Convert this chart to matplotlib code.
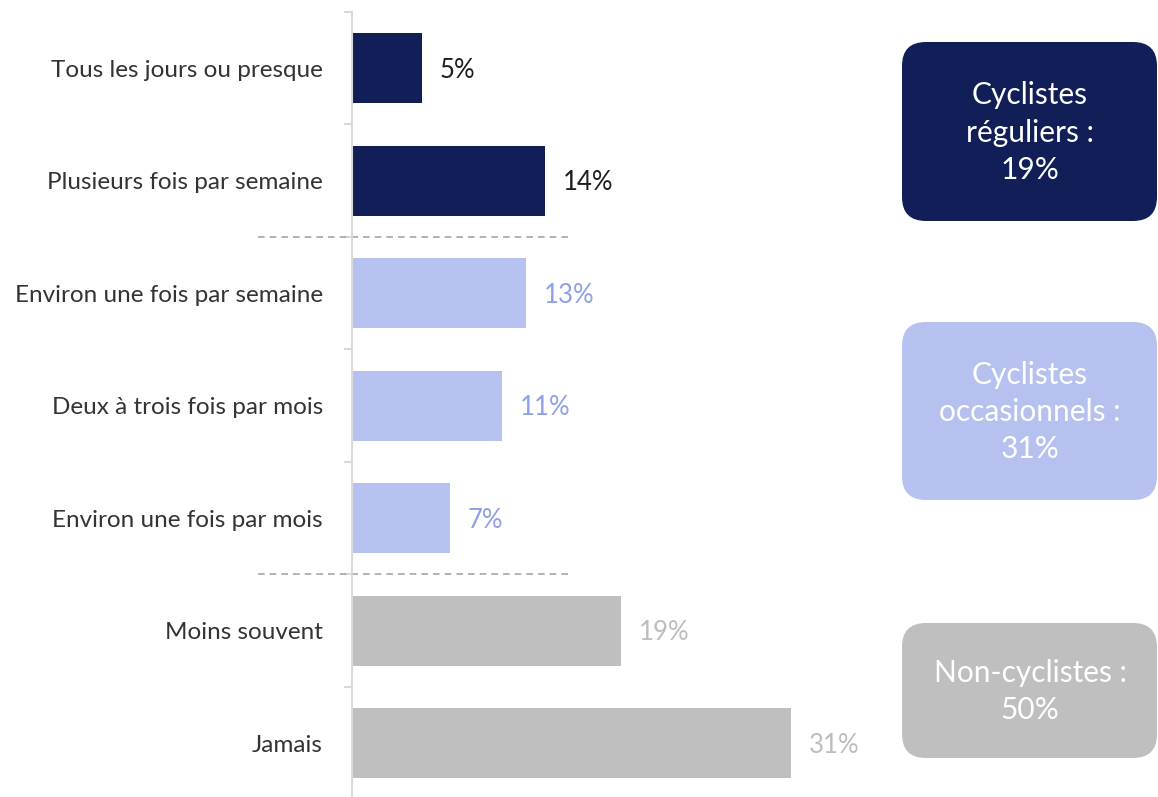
import matplotlib
matplotlib.use("Agg")
import matplotlib.pyplot as plt
from matplotlib.patches import FancyBboxPatch

plt.rcParams['font.family'] = ['Lato', 'DejaVu Sans']

# data
categories = ["Tous les jours ou presque", "Plusieurs fois par semaine",
              "Environ une fois par semaine", "Deux à trois fois par mois",
              "Environ une fois par mois", "Moins souvent", "Jamais"]
values = [4.95, 13.6, 12.3, 10.6, 6.9, 19.0, 31.0]
value_labels = ["5%", "14%", "13%", "11%", "7%", "19%", "31%"]
groups = [0, 0, 1, 1, 1, 2, 2]
group_labels = ["Cyclistes\nréguliers :\n19%",
                "Cyclistes\noccasionnels :\n31%",
                "Non-cyclistes :\n50%"]

bar_colors = ["#111e57", "#b7c1f0", "#bfbfbf"]
value_colors = ["#1e1e1e", "#8e9fe8", "#bdbdbd"]

fig = plt.figure(figsize=(11.58, 7.97), dpi=100)

# main bar axes
ax = fig.add_axes([352 / 1158, 0, (880 - 352) / 1158, 785 / 797])
y = list(range(len(categories)))
ax.barh(y, values, height=0.62, color=[bar_colors[g] for g in groups])
ax.set_ylim(6.478, -0.5)
ax.set_xlim(0, 528 / 14.16)

for i, v in enumerate(values):
    ax.text(v + 1.27, i + 0.02, value_labels[i], va="center", ha="left",
            fontsize=18.5, color=value_colors[groups[i]])

ax.set_yticks(y)
ax.set_yticklabels(categories, fontsize=17.5, color="#333333")
ax.tick_params(axis="y", which="major", length=0, pad=21)
ax.set_yticks([i - 0.5 for i in range(len(categories))], minor=True)
ax.tick_params(axis="y", which="minor", length=5.5, width=1.5, color="#d9d9d9")
ax.set_xticks([])
for s in ["top", "right", "bottom"]:
    ax.spines[s].set_visible(False)
ax.spines["left"].set_color("#d9d9d9")
ax.spines["left"].set_linewidth(1.5)

# dashed separators between groups
for yy in [1.5, 4.5]:
    ax.plot([-6.64, 15.54], [yy, yy], ls=(0, (4, 3)), color="#a6a6a6",
            lw=1.2, clip_on=False)

# group boxes in a pixel-coordinate overlay
ov = fig.add_axes([0, 0, 1, 1])
ov.set_xlim(0, 1158)
ov.set_ylim(797, 0)
ov.axis("off")
boxes = [(42, 221), (322, 500), (623, 758)]
for k, (top, bot) in enumerate(boxes):
    ov.add_patch(FancyBboxPatch((902, top), 255, bot - top,
                                boxstyle="round,pad=0,rounding_size=24",
                                fc=bar_colors[k], ec="none"))
    ov.text(1030, (top + bot) / 2 + 1, group_labels[k], ha="center",
            va="center", fontsize=21.5, color="white", linespacing=1.4)

fig.savefig("out.png", dpi=100)
